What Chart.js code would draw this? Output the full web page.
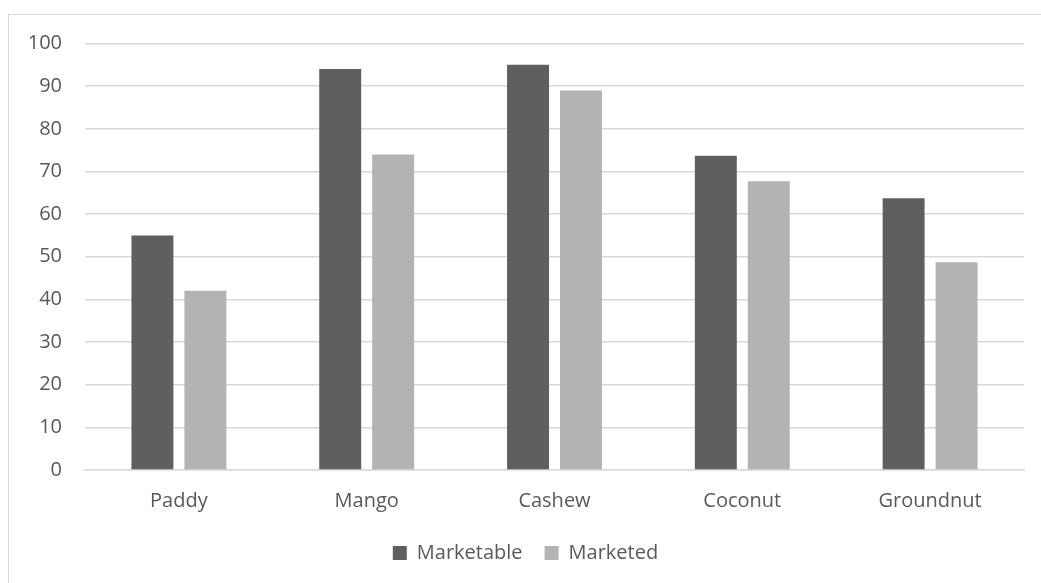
<!DOCTYPE html>
<html>
<head>
<meta charset="utf-8">
<script src="https://cdn.jsdelivr.net/npm/chart.js@4/dist/chart.umd.min.js"></script>
<style>
  html, body { margin: 0; padding: 0; background: #ffffff; overflow: hidden; }
  #frame { position: absolute; left: 8px; top: 14px; width: 1200px; height: 800px;
           border: 1.5px solid #d9d9d9; background: #ffffff; }
  #wrap { position: absolute; left: 0; top: 0; width: 1041px; height: 583px; }
</style>
</head>
<body>
<div id="frame"></div>
<div id="wrap"><canvas id="c" width="1041" height="583"></canvas></div>
<script>
const categories = ["Paddy", "Mango", "Cashew", "Coconut", "Groundnut"];
const marketable = [55, 94, 95, 73.7, 63.7];
const marketed = [42, 74, 89, 67.7, 48.7];
const yTicks = [0, 10, 20, 30, 40, 50, 60, 70, 80, 90, 100];

const textColor = "#595959";
const fontFamily = "'Open Sans', 'Noto Sans', sans-serif";

new Chart(document.getElementById("c"), {
  type: "bar",
  data: {
    labels: categories,
    datasets: [
      { label: "Marketable", data: marketable, backgroundColor: "#5f5f5f",
        categoryPercentage: 0.564, barPercentage: 0.792 },
      { label: "Marketed", data: marketed, backgroundColor: "#b3b3b3",
        categoryPercentage: 0.564, barPercentage: 0.792 }
    ]
  },
  options: {
    responsive: false,
    animation: false,
    layout: { padding: { left: 27, right: 17, top: 43.5, bottom: 10 } },
    plugins: {
      tooltip: { enabled: false },
      legend: {
        position: "bottom",
        labels: {
          boxWidth: 14, boxHeight: 14, padding: 22,
          color: textColor,
          font: { family: fontFamily, size: 20 }
        }
      }
    },
    scales: {
      x: {
        grid: { display: false, drawTicks: false },
        border: { display: true, color: "#d9d9d9", width: 1.5 },
        ticks: { color: textColor, font: { family: fontFamily, size: 20 }, padding: 19 },
        afterFit: (s) => { s.height = s.height - 11; }
      },
      y: {
        min: 0, max: 100,
        afterBuildTicks: (s) => { s.ticks = yTicks.map(v => ({ value: v })); },
        grid: { color: "#d9d9d9", lineWidth: 1.5, drawTicks: false },
        border: { display: false },
        ticks: { color: textColor, font: { family: fontFamily, size: 20 }, padding: 23 },
        afterFit: (s) => { s.width = 58; }
      }
    }
  }
});
</script>
</body>
</html>
